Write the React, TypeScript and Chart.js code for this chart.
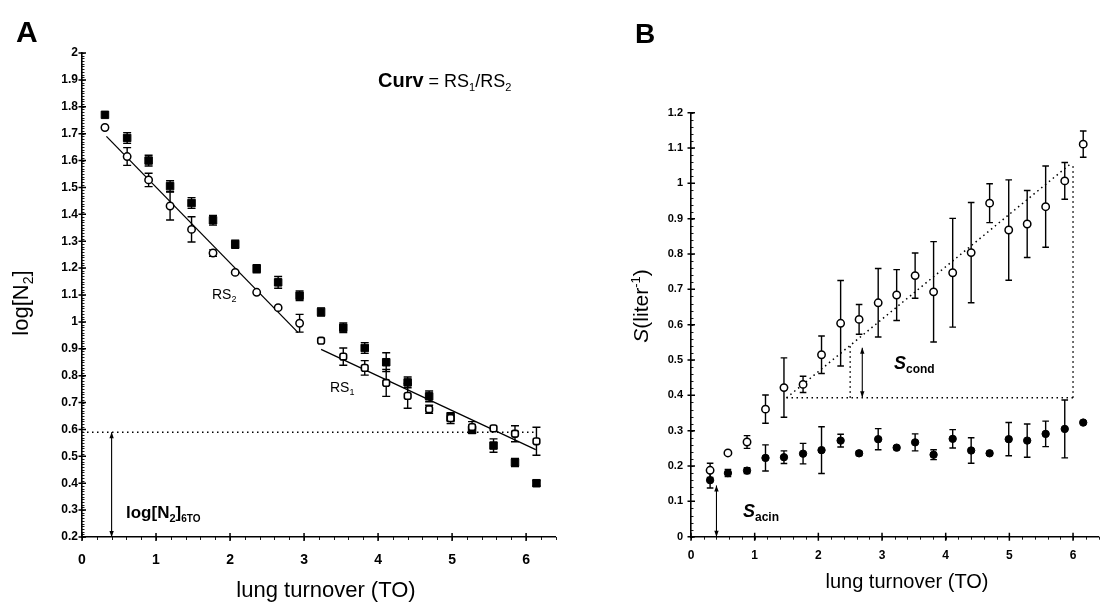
import React, { useEffect, useRef } from "react";
import { Chart, registerables } from "chart.js";
Chart.register(...registerables);

// ---------- Panel A data ----------
const aTurnover = [0.31, 0.61, 0.9, 1.19, 1.48, 1.77, 2.07, 2.36, 2.65, 2.94, 3.23, 3.53, 3.82, 4.11, 4.4, 4.69, 4.98, 5.27, 5.56, 5.85, 6.14];
const aClosed = [1.77, 1.684, 1.6, 1.505, 1.442, 1.378, 1.289, 1.198, 1.147, 1.097, 1.037, 0.978, 0.903, 0.85, 0.775, 0.723, 0.645, 0.598, 0.54, 0.477, 0.4];
const aClosedErr = [0, 0.02, 0.02, 0.02, 0.02, 0.018, 0.015, 0.015, 0.022, 0.018, 0.015, 0.018, 0.02, 0.035, 0.02, 0.02, 0.015, 0.012, 0.025, 0.015, 0.01];
const aOpen = [1.723, 1.615, 1.528, 1.431, 1.344, 1.256, 1.184, 1.11, 1.053, 0.995, 0.93, 0.871, 0.829, 0.773, 0.725, 0.675, 0.642, 0.609, 0.604, 0.584, 0.556];
const aOpenErr = [0, 0.033, 0.025, 0.052, 0.047, 0.012, 0, 0, 0, 0.033, 0, 0.032, 0.027, 0.05, 0.046, 0.015, 0.02, 0.02, 0, 0.03, 0.052];
const aRS2Fit = [{ x: 0.33, y: 1.69 }, { x: 2.92, y: 0.96 }];
const aRS1Fit = [{ x: 3.23, y: 0.898 }, { x: 6.13, y: 0.525 }];
const aLog6TO = 0.59;
const aLog6TOEnd = 6.14;
const aArrowX = 0.4;
const aXTicks = [0, 1, 2, 3, 4, 5, 6];
const aYTicks = [0.2, 0.3, 0.4, 0.5, 0.6, 0.7, 0.8, 0.9, 1, 1.1, 1.2, 1.3, 1.4, 1.5, 1.6, 1.7, 1.8, 1.9, 2];

// ---------- Panel B data ----------
const bTurnover = [0.3, 0.58, 0.88, 1.17, 1.46, 1.76, 2.05, 2.35, 2.64, 2.94, 3.23, 3.52, 3.81, 4.11, 4.4, 4.69, 4.99, 5.28, 5.57, 5.87, 6.16];
const bOpen = [0.188, 0.237, 0.268, 0.361, 0.422, 0.431, 0.515, 0.604, 0.615, 0.662, 0.684, 0.739, 0.693, 0.747, 0.804, 0.944, 0.868, 0.885, 0.934, 1.007, 1.111];
const bOpenErr = [0.02, 0, 0.018, 0.04, 0.084, 0.023, 0.053, 0.121, 0.042, 0.097, 0.072, 0.064, 0.142, 0.154, 0.142, 0.055, 0.142, 0.095, 0.115, 0.052, 0.037];
const bClosed = [0.16, 0.18, 0.187, 0.223, 0.225, 0.235, 0.245, 0.272, 0.236, 0.276, 0.252, 0.267, 0.232, 0.277, 0.244, 0.236, 0.276, 0.272, 0.291, 0.305, 0.323];
const bClosedErr = [0.022, 0.01, 0.008, 0.037, 0.018, 0.029, 0.066, 0.018, 0.006, 0.03, 0.005, 0.024, 0.014, 0.026, 0.036, 0.005, 0.047, 0.047, 0.036, 0.082, 0];
const bSlope = [{ x: 1.5, y: 0.393 }, { x: 5.98, y: 1.058 }];
const bBase = [{ x: 1.5, y: 0.393 }, { x: 6.0, y: 0.393 }];
const bRightEdge = [{ x: 6.0, y: 0.393 }, { x: 6.0, y: 1.058 }];
const bMidEdge = [{ x: 2.5, y: 0.393 }, { x: 2.5, y: 0.543 }];
const bCondArrow = { x: 2.69, y1: 0.395, y2: 0.535 };
const bAcinArrow = { x: 0.4, y1: 0, y2: 0.145 };
const bXTicks = [0, 1, 2, 3, 4, 5, 6];
const bYTicks = [0, 0.1, 0.2, 0.3, 0.4, 0.5, 0.6, 0.7, 0.8, 0.9, 1, 1.1, 1.2];

const SANS = "'Liberation Sans', Arial, Helvetica, sans-serif";
const fmt = (v: any) => String(Math.round(Number(v) * 100) / 100);

function pts(xs: number[], ys: number[], from = 0, to = xs.length) {
  const out: { x: number; y: number }[] = [];
  for (let i = from; i < to; i++) out.push({ x: xs[i], y: ys[i] });
  return out;
}

type Part = { t: string; font: string; dy?: number };
function rich(ctx: CanvasRenderingContext2D, x: number, y: number, parts: Part[], align: "left" | "center" = "left") {
  let w = 0;
  for (const p of parts) { ctx.font = p.font; w += ctx.measureText(p.t).width; }
  let cx = align === "center" ? x - w / 2 : x;
  ctx.textAlign = "left";
  ctx.textBaseline = "alphabetic";
  for (const p of parts) {
    ctx.font = p.font;
    ctx.fillText(p.t, cx, y + (p.dy || 0));
    cx += ctx.measureText(p.t).width;
  }
}

function errBars(ctx: CanvasRenderingContext2D, chart: any, xs: number[], ys: number[], es: number[], cap: number) {
  const sx = chart.scales.x, sy = chart.scales.y;
  ctx.save();
  ctx.strokeStyle = "#000";
  ctx.lineWidth = 1.4;
  for (let i = 0; i < xs.length; i++) {
    if (!es[i]) continue;
    const px = sx.getPixelForValue(xs[i]);
    const t = sy.getPixelForValue(ys[i] + es[i]);
    const b = sy.getPixelForValue(ys[i] - es[i]);
    ctx.beginPath();
    ctx.moveTo(px, t); ctx.lineTo(px, b);
    ctx.moveTo(px - cap, t); ctx.lineTo(px + cap, t);
    ctx.moveTo(px - cap, b); ctx.lineTo(px + cap, b);
    ctx.stroke();
  }
  ctx.restore();
}

function vArrow(ctx: CanvasRenderingContext2D, chart: any, x: number, y1: number, y2: number) {
  const px = chart.scales.x.getPixelForValue(x);
  const a = chart.scales.y.getPixelForValue(y1);
  const b = chart.scales.y.getPixelForValue(y2);
  ctx.save();
  ctx.strokeStyle = "#000";
  ctx.fillStyle = "#000";
  ctx.lineWidth = 1.1;
  ctx.beginPath(); ctx.moveTo(px, a); ctx.lineTo(px, b); ctx.stroke();
  const head = (yy: number, dir: number) => {
    ctx.beginPath();
    ctx.moveTo(px, yy);
    ctx.lineTo(px - 2.2, yy + dir * 6);
    ctx.lineTo(px + 2.2, yy + dir * 6);
    ctx.closePath();
    ctx.fill();
  };
  head(a, -1);
  head(b, 1);
  ctx.restore();
}

function axisTicks(ctx: CanvasRenderingContext2D, chart: any, xMinor: number, yMinor: number, yMajor: number[], xMajor: number[]) {
  const sx = chart.scales.x, sy = chart.scales.y;
  const ax = chart.chartArea.left, ay = chart.chartArea.bottom;
  ctx.save();
  ctx.strokeStyle = "#000";
  ctx.lineWidth = 0.9;
  const yMin = sy.min, yMax = sy.max;
  const nY = Math.round((yMax - yMin) / yMinor);
  ctx.beginPath();
  for (let k = 0; k <= nY; k++) {
    const v = yMin + k * yMinor;
    const p = Math.round(sy.getPixelForValue(v)) + 0.5;
    ctx.moveTo(ax - 1, p); ctx.lineTo(ax + 2.5, p);
  }
  const nX = Math.floor((sx.max - sx.min) / xMinor + 1e-6);
  for (let k = 0; k <= nX; k++) {
    const v = sx.min + k * xMinor;
    const p = Math.round(sx.getPixelForValue(v)) + 0.5;
    ctx.moveTo(p, ay); ctx.lineTo(p, ay + 3);
  }
  ctx.stroke();
  ctx.lineWidth = 1.5;
  ctx.beginPath();
  for (const v of yMajor) {
    const p = sy.getPixelForValue(v);
    ctx.moveTo(ax - 3.5, p); ctx.lineTo(ax + 4, p);
  }
  for (const v of xMajor) {
    const p = sx.getPixelForValue(v);
    ctx.moveTo(p, ay - 4); ctx.lineTo(p, ay + 4);
  }
  ctx.stroke();
  ctx.restore();
}

function makeConfig(opts: {
  xMax: number; yMin: number; yMax: number; xTicks: number[]; yTicks: number[];
  yWidth: number; xHeight: number; padding: any; xFont: number; yFont: number; xPad: number; yPad: number;
  datasets: any[]; plugin: any;
}): any {
  return {
    type: "scatter",
    data: { datasets: opts.datasets },
    options: {
      animation: false,
      responsive: false,
      devicePixelRatio: 1,
      layout: { padding: opts.padding },
      plugins: { legend: { display: false }, tooltip: { enabled: false } },
      scales: {
        x: {
          type: "linear", min: 0, max: opts.xMax,
          afterBuildTicks: (s: any) => { s.ticks = opts.xTicks.map((v) => ({ value: v })); },
          afterFit: (s: any) => { s.height = opts.xHeight; },
          grid: { display: false, drawTicks: false },
          border: { display: true, color: "#000", width: 1.6 },
          ticks: { color: "#000", font: { family: SANS, size: opts.xFont, weight: "bold" }, padding: opts.xPad, callback: fmt, maxRotation: 0, autoSkip: false },
        },
        y: {
          type: "linear", min: opts.yMin, max: opts.yMax,
          afterBuildTicks: (s: any) => { s.ticks = opts.yTicks.map((v) => ({ value: v })); },
          afterFit: (s: any) => { s.width = opts.yWidth; },
          grid: { display: false, drawTicks: false },
          border: { display: true, color: "#000", width: 1.6 },
          ticks: { color: "#000", font: { family: SANS, size: opts.yFont, weight: "bold" }, padding: opts.yPad, callback: fmt, autoSkip: false },
        },
      },
    },
    plugins: [opts.plugin],
  };
}

const lineDs = (data: any[], dash: number[] = [], width = 1.3) => ({
  type: "line", data, showLine: true, borderColor: "#000", borderWidth: width, borderDash: dash,
  pointRadius: 0, fill: false, tension: 0,
});

const plainFont = (s: number) => `${s}px ${SANS}`;
const boldFont = (s: number) => `bold ${s}px ${SANS}`;

const pluginA = {
  id: "panelA",
  beforeDatasetsDraw(chart: any) {
    const ctx = chart.ctx;
    errBars(ctx, chart, aTurnover, aClosed, aClosedErr, 4);
    errBars(ctx, chart, aTurnover, aOpen, aOpenErr, 4);
  },
  afterDraw(chart: any) {
    const ctx = chart.ctx as CanvasRenderingContext2D;
    axisTicks(ctx, chart, 0.2, 0.01, aYTicks, aXTicks);
    vArrow(ctx, chart, aArrowX, 0.2, aLog6TO);
    ctx.save();
    ctx.fillStyle = "#000";
    rich(ctx, 16, 42, [{ t: "A", font: boldFont(30) }]);
    rich(ctx, 378, 87, [
      { t: "Curv", font: boldFont(20) },
      { t: " = RS", font: plainFont(18) },
      { t: "1", font: plainFont(11), dy: 4 },
      { t: "/RS", font: plainFont(18) },
      { t: "2", font: plainFont(11), dy: 4 },
    ]);
    rich(ctx, 212, 299, [{ t: "RS", font: plainFont(14) }, { t: "2", font: plainFont(9), dy: 3 }]);
    rich(ctx, 330, 392, [{ t: "RS", font: plainFont(14) }, { t: "1", font: plainFont(9), dy: 3 }]);
    rich(ctx, 126, 518, [
      { t: "log[N", font: boldFont(17) },
      { t: "2", font: boldFont(11), dy: 4 },
      { t: "]", font: boldFont(17) },
      { t: "6TO", font: boldFont(10), dy: 4 },
    ]);
    rich(ctx, 326, 597, [{ t: "lung turnover (TO)", font: plainFont(22) }], "center");
    ctx.translate(28, 303);
    ctx.rotate(-Math.PI / 2);
    rich(ctx, 0, 0, [
      { t: "log[N", font: plainFont(22) },
      { t: "2", font: plainFont(14), dy: 5 },
      { t: "]", font: plainFont(22) },
    ], "center");
    ctx.restore();
  },
};

const pluginB = {
  id: "panelB",
  beforeDatasetsDraw(chart: any) {
    const ctx = chart.ctx;
    errBars(ctx, chart, bTurnover, bClosed, bClosedErr, 3.3);
    errBars(ctx, chart, bTurnover, bOpen, bOpenErr, 3.3);
  },
  afterDraw(chart: any) {
    const ctx = chart.ctx as CanvasRenderingContext2D;
    axisTicks(ctx, chart, 0.2, 0.02, bYTicks, bXTicks);
    vArrow(ctx, chart, bCondArrow.x, bCondArrow.y1, bCondArrow.y2);
    vArrow(ctx, chart, bAcinArrow.x, bAcinArrow.y1, bAcinArrow.y2);
    const o = 560;
    ctx.save();
    ctx.fillStyle = "#000";
    rich(ctx, 635 - o, 43, [{ t: "B", font: boldFont(28) }]);
    rich(ctx, 894 - o, 369, [
      { t: "S", font: `italic bold 18px ${SANS}` },
      { t: "cond", font: boldFont(12), dy: 4 },
    ]);
    rich(ctx, 743 - o, 517, [
      { t: "S", font: `italic bold 18px ${SANS}` },
      { t: "acin", font: boldFont(12), dy: 4 },
    ]);
    rich(ctx, 907 - o, 588, [{ t: "lung turnover (TO)", font: plainFont(20) }], "center");
    ctx.translate(648 - o, 306);
    ctx.rotate(-Math.PI / 2);
    rich(ctx, 0, 0, [
      { t: "S", font: `italic 21px ${SANS}` },
      { t: "(liter", font: plainFont(21) },
      { t: "-1", font: plainFont(13), dy: -8 },
      { t: ")", font: plainFont(21) },
    ], "center");
    ctx.restore();
  },
};

const configA = makeConfig({
  xMax: 6.4, yMin: 0.2, yMax: 2, xTicks: aXTicks, yTicks: aYTicks,
  yWidth: 60, xHeight: 40,
  padding: { left: 22, top: 53, right: 0, bottom: 27 },
  xFont: 14, yFont: 12, xPad: 14.5, yPad: 4,
  plugin: pluginA,
  datasets: [
    { label: "RS2 open", data: pts(aTurnover, aOpen, 0, 10), pointStyle: "circle", pointRadius: 3.7, pointBackgroundColor: "#fff", pointBorderColor: "#000", pointBorderWidth: 1.5 },
    { label: "RS1 open", data: pts(aTurnover, aOpen, 10), pointStyle: "rectRounded", pointRadius: 3.9, pointBackgroundColor: "#fff", pointBorderColor: "#000", pointBorderWidth: 1.6 },
    { label: "closed", data: pts(aTurnover, aClosed), pointStyle: "rect", pointRadius: 5.3, pointBackgroundColor: "#000", pointBorderColor: "#000", pointBorderWidth: 1 },
    lineDs(aRS2Fit),
    lineDs(aRS1Fit),
    lineDs([{ x: 0, y: aLog6TO }, { x: aLog6TOEnd, y: aLog6TO }], [1.5, 3.5], 1.5),
  ],
});

const configB = makeConfig({
  xMax: 6.4, yMin: 0, yMax: 1.2, xTicks: bXTicks, yTicks: bYTicks,
  yWidth: 60, xHeight: 40,
  padding: { left: 71, top: 112.7, right: 0.8, bottom: 27.3 },
  xFont: 12, yFont: 11, xPad: 12, yPad: 8,
  plugin: pluginB,
  datasets: [
    { label: "open", data: pts(bTurnover, bOpen), pointStyle: "circle", pointRadius: 3.7, pointBackgroundColor: "#fff", pointBorderColor: "#000", pointBorderWidth: 1.5 },
    { label: "closed", data: pts(bTurnover, bClosed), pointStyle: "circle", pointRadius: 3.7, pointBackgroundColor: "#000", pointBorderColor: "#000", pointBorderWidth: 1 },
    lineDs(bSlope, [1.5, 3.5], 1.5),
    lineDs(bBase, [1.5, 3.5], 1.5),
    lineDs(bRightEdge, [1.5, 3.5], 1.5),
    lineDs(bMidEdge, [1.5, 3.5], 1.5),
  ],
});

export default function App() {
  const refA = useRef<HTMLCanvasElement>(null);
  const refB = useRef<HTMLCanvasElement>(null);
  useEffect(() => {
    const a = new Chart(refA.current as HTMLCanvasElement, configA);
    const b = new Chart(refB.current as HTMLCanvasElement, configB);
    return () => { a.destroy(); b.destroy(); };
  }, []);
  return (
    <div style={{ position: "fixed", left: 0, top: 0, width: 1101, height: 604, overflow: "hidden", background: "#fff" }}>
      <canvas ref={refA} width={562} height={604} style={{ position: "absolute", left: 0, top: 0, width: 562, height: 604 }} />
      <canvas ref={refB} width={544} height={604} style={{ position: "absolute", left: 560, top: 0, width: 544, height: 604 }} />
    </div>
  );
}
